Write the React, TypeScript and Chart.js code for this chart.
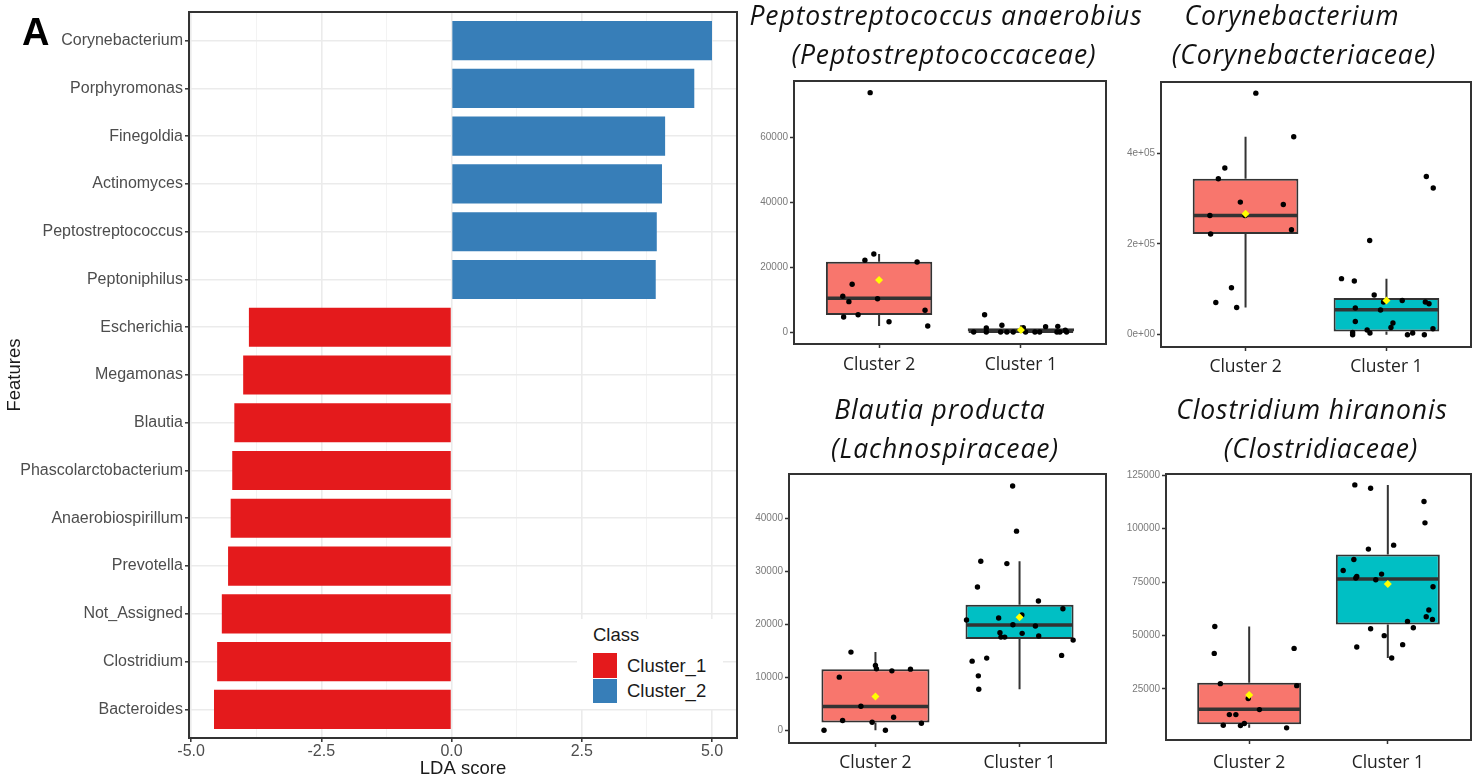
import React, { useEffect, useRef } from 'react';
import { Chart, registerables } from 'chart.js';

Chart.register(...registerables);

// ---------------- Panel A: LDA scores ----------------
const features = [
  'Corynebacterium', 'Porphyromonas', 'Finegoldia', 'Actinomyces', 'Peptostreptococcus',
  'Peptoniphilus', 'Escherichia', 'Megamonas', 'Blautia', 'Phascolarctobacterium',
  'Anaerobiospirillum', 'Prevotella', 'Not_Assigned', 'Clostridium', 'Bacteroides',
];
const ldaScores = [5.0, 4.66, 4.1, 4.04, 3.94, 3.92, -3.89, -4.0, -4.17, -4.21, -4.24, -4.29, -4.41, -4.5, -4.56];
const featureClass = [
  'Cluster_2', 'Cluster_2', 'Cluster_2', 'Cluster_2', 'Cluster_2', 'Cluster_2',
  'Cluster_1', 'Cluster_1', 'Cluster_1', 'Cluster_1', 'Cluster_1', 'Cluster_1', 'Cluster_1', 'Cluster_1', 'Cluster_1',
];
const classNames = ['Cluster_1', 'Cluster_2'];
const classColors = ['#E41A1C', '#377EB8'];
const xMajorTicks = [-5, -2.5, 0, 2.5, 5];
const xMinorTicks = [-3.75, -1.25, 1.25, 3.75];

// ---------------- Box plots ----------------
const groupLabels = ['Cluster 2', 'Cluster 1'];
const boxFills = ['#F8766D', '#00BFC4'];

// Peptostreptococcus anaerobius
const pepC2Values = [73900, 22160, 24110, 21640, 14740, 11030, 9370, 10290, 5350, 4640, 3180, 6710, 1850];
const pepC2Jitter = [-0.063, -0.1, -0.037, 0.268, -0.19, -0.256, -0.213, -0.011, -0.148, -0.25, 0.07, 0.324, 0.343];
const pepC1Values = [5350, 1240, 2070, 0, 0, 0, 0, 0, 1340, 0, 0, 0, 1650, 1750, 0, 0, 570, 0];
const pepC1Jitter = [-0.256, -0.244, -0.134, -0.333, -0.244, -0.143, -0.099, -0.054, 0.017, 0.033, 0.099, 0.132, 0.174, 0.26, 0.254, 0.275, 0.313, 0.322];
const pepQ1 = [5255, 0];
const pepMedian = [10420, 250];
const pepQ3 = [21730, 1150];
const pepWhiskerLow = [1850, 0];
const pepWhiskerHigh = [24110, 2070];
const pepMean = [16070, 620];
const pepYTicks = [0, 20000, 40000, 60000];
const pepYLabels = ['0', '20000', '40000', '60000'];

// Corynebacterium
const coryC2Values = [532000, 435900, 367000, 343400, 292100, 286900, 262700, 262700, 221700, 231100, 103500, 71100, 60100];
const coryC2Jitter = [0.073, 0.342, -0.147, -0.193, -0.037, 0.268, -0.253, -0.004, -0.248, 0.326, -0.1, -0.211, -0.063];
const coryC1Values = [348500, 323000, 207600, 123500, 118200, 87400, 75500, 72000, 72000, 68300, 58800, 54400, 29300, 25800, 16100, 10300, 3700, 5100, 0, 0, 3700, 0, 13200];
const coryC1Jitter = [0.283, 0.332, -0.119, -0.319, -0.228, -0.087, 0.112, -0.021, 0.276, 0.302, -0.221, -0.042, -0.221, 0.046, 0.032, -0.137, -0.117, -0.24, -0.24, 0.149, 0.186, 0.269, 0.33];
const coryQ1 = [221700, 7300];
const coryMedian = [262700, 55000];
const coryQ3 = [343400, 80800];
const coryWhiskerLow = [60100, 0];
const coryWhiskerHigh = [435900, 123500];
const coryMean = [266400, 75500];
const coryYTicks = [0, 200000, 400000];
const coryYLabels = ['0e+00', '2e+05', '4e+05'];

// Blautia producta
const blaC2Values = [14750, 12230, 11590, 10020, 11210, 11530, 4540, 1830, 1510, 2460, 1320, 0, 0];
const blaC2Jitter = [-0.17, 0, 0.007, -0.251, 0.114, 0.243, -0.101, -0.228, -0.023, 0.126, 0.319, -0.357, 0.069];
const blaC1Values = [46070, 37560, 31890, 31440, 27030, 24390, 22930, 20790, 21170, 21740, 19910, 19660, 18400, 17580, 17580, 18280, 17770, 17010, 14120, 13040, 13610, 10270, 7750];
const blaC1Jitter = [-0.048, -0.021, -0.269, -0.088, -0.292, 0.131, 0.301, -0.368, -0.145, 0.016, -0.046, 0.11, -0.136, -0.129, -0.103, 0.018, 0.133, 0.372, 0.292, -0.329, -0.228, -0.286, -0.283];
const blaQ1 = [1450, 17200];
const blaMedian = [4480, 19850];
const blaQ3 = [11530, 23690];
const blaWhiskerLow = [0, 7750];
const blaWhiskerHigh = [14750, 31890];
const blaMean = [6370, 21300];
const blaYTicks = [0, 10000, 20000, 30000, 40000];
const blaYLabels = ['0', '10000', '20000', '30000', '40000'];

// Clostridium hiranonis
const cloC2Values = [54250, 41640, 43970, 27480, 26540, 20470, 15330, 12990, 12990, 8000, 7850, 8790, 6780];
const cloC2Jitter = [-0.248, -0.252, 0.324, -0.208, 0.343, -0.007, 0.074, -0.143, -0.096, -0.187, -0.063, -0.035, 0.27];
const cloC1Values = [120500, 118940, 112700, 102730, 90440, 92310, 85580, 80440, 78760, 77640, 76890, 76100, 72830, 61930, 58800, 57550, 56620, 53670, 53200, 49930, 45720, 44630, 39490];
const cloC1Jitter = [-0.238, -0.124, 0.261, 0.268, -0.14, 0.042, -0.245, -0.322, -0.045, -0.224, -0.231, -0.087, 0.326, 0.296, 0.277, 0.322, 0.142, 0.184, -0.124, -0.026, 0.107, -0.224, 0.028];
const cloQ1 = [8460, 55190];
const cloMedian = [15470, 76450];
const cloQ3 = [27940, 87900];
const cloWhiskerLow = [6780, 39490];
const cloWhiskerHigh = [54250, 120500];
const cloMean = [22200, 74120];
const cloYTicks = [25000, 50000, 75000, 100000, 125000];
const cloYLabels = ['25000', '50000', '75000', '100000', '125000'];

const SANS = '"Liberation Sans", Arial, Helvetica, sans-serif';
const TITLE_FONT = '"Open Sans", "Noto Sans", sans-serif';

Chart.defaults.font.family = SANS;

const framePlugin = {
  id: 'frame',
  afterDatasetsDraw(chart: any) {
    const { ctx, chartArea } = chart;
    ctx.save();
    ctx.strokeStyle = '#333333';
    ctx.lineWidth = 2;
    ctx.strokeRect(chartArea.left, chartArea.top, chartArea.right - chartArea.left, chartArea.bottom - chartArea.top);
    ctx.restore();
  },
};

function ldaConfig(): any {
  const allX = [...xMajorTicks, ...xMinorTicks].sort((a, b) => a - b);
  return {
    type: 'bar',
    data: {
      datasets: [
        {
          data: features.map((_, i) => ({ x: ldaScores[i], y: i })),
          backgroundColor: featureClass.map((c) => classColors[classNames.indexOf(c)]),
          borderWidth: 0,
          barPercentage: 0.82,
          categoryPercentage: 1,
        },
      ],
    },
    options: {
      indexAxis: 'y',
      animation: false,
      responsive: false,
      maintainAspectRatio: false,
      events: [],
      layout: { padding: { top: 12, right: 8, left: 0, bottom: 0 } },
      plugins: { legend: { display: false }, tooltip: { enabled: false } },
      scales: {
        x: {
          type: 'linear',
          min: -5.04,
          max: 5.48,
          offset: false,
          afterBuildTicks: (axis: any) => {
            axis.ticks = allX.map((v) => ({ value: v }));
          },
          afterFit: (axis: any) => {
            axis.height = 42;
          },
          ticks: {
            autoSkip: false,
            maxRotation: 0,
            padding: 0,
            color: '#4D4D4D',
            font: { size: 16, family: SANS },
            callback: (v: number) => (xMajorTicks.includes(v) ? v.toFixed(1) : ''),
          },
          grid: {
            offset: false,
            color: (ctx: any) => (ctx.tick && xMajorTicks.includes(ctx.tick.value) ? '#EBEBEB' : '#F3F3F3'),
            lineWidth: (ctx: any) => (ctx.tick && xMajorTicks.includes(ctx.tick.value) ? 1.6 : 1),
            tickColor: (ctx: any) => (ctx.tick && xMajorTicks.includes(ctx.tick.value) ? '#333333' : 'rgba(0,0,0,0)'),
            tickLength: 4,
            tickWidth: 1.5,
          },
          border: { display: false },
          title: {
            display: true,
            text: 'LDA score',
            color: '#1a1a1a',
            font: { size: 18.5, family: SANS },
            padding: { top: 0, bottom: 0 },
          },
        },
        y: {
          type: 'linear',
          reverse: true,
          min: -0.6,
          max: 14.6,
          offset: false,
          afterBuildTicks: (axis: any) => {
            axis.ticks = features.map((_, i) => ({ value: i }));
          },
          afterFit: (axis: any) => {
            axis.width = 189;
          },
          ticks: {
            autoSkip: false,
            padding: 2,
            color: '#4D4D4D',
            font: { size: 16, family: SANS },
            callback: (_v: number, idx: number) => features[idx],
          },
          grid: {
            offset: false,
            color: '#EBEBEB',
            lineWidth: 1.6,
            tickColor: '#333333',
            tickLength: 4,
            tickWidth: 1.5,
          },
          border: { display: false },
          title: {
            display: true,
            text: 'Features',
            color: '#1a1a1a',
            font: { size: 18.5, family: SANS },
            padding: { top: 4, bottom: 0 },
          },
        },
      },
    },
    plugins: [framePlugin],
  };
}

type BoxPanel = {
  c2Values: number[]; c2Jitter: number[]; c1Values: number[]; c1Jitter: number[];
  q1: number[]; median: number[]; q3: number[]; whiskerLow: number[]; whiskerHigh: number[]; mean: number[];
  yMin: number; yMax: number; yTicks: number[]; yLabels: string[];
  padTop: number; padRight: number; yAxisWidth: number; xAxisHeight: number; labelPad: number;
};

function boxConfig(p: BoxPanel): any {
  const groups = [
    { values: p.c2Values, jitter: p.c2Jitter },
    { values: p.c1Values, jitter: p.c1Jitter },
  ];
  const extras = {
    id: 'boxExtras',
    afterDatasetDraw(chart: any, args: any) {
      if (args.meta.type !== 'bar') return;
      const { ctx } = chart;
      const y = chart.scales.y;
      ctx.save();
      ctx.strokeStyle = '#333333';
      args.meta.data.forEach((bar: any, i: number) => {
        const { x: cx, width } = bar.getProps(['x', 'width'], true);
        ctx.lineWidth = 2;
        ctx.beginPath();
        ctx.moveTo(cx, y.getPixelForValue(p.q3[i]));
        ctx.lineTo(cx, y.getPixelForValue(p.whiskerHigh[i]));
        ctx.moveTo(cx, y.getPixelForValue(p.q1[i]));
        ctx.lineTo(cx, y.getPixelForValue(p.whiskerLow[i]));
        ctx.stroke();
        const ym = y.getPixelForValue(p.median[i]);
        ctx.lineWidth = 3.5;
        ctx.beginPath();
        ctx.moveTo(cx - width / 2 + 1, ym);
        ctx.lineTo(cx + width / 2 - 1, ym);
        ctx.stroke();
      });
      ctx.restore();
    },
  };
  return {
    type: 'scatter',
    data: {
      datasets: [
        {
          type: 'scatter',
          data: p.mean.map((m, i) => ({ x: i, y: m })),
          pointStyle: 'rectRot',
          pointRadius: 4,
          backgroundColor: '#FFFF00',
          borderColor: '#FFFF00',
          borderWidth: 0,
          order: 0,
        },
        ...groups.map((g, gi) => ({
          type: 'scatter',
          data: g.values.map((v, k) => ({ x: gi + g.jitter[k], y: v })),
          pointRadius: 2.7,
          backgroundColor: '#000000',
          borderWidth: 0,
          order: 1,
        })),
        {
          type: 'bar',
          data: p.q1.map((q, i) => ({ x: i, y: [q, p.q3[i]] })),
          backgroundColor: boxFills,
          borderColor: '#333333',
          borderWidth: 2,
          borderSkipped: false,
          barPercentage: 0.75,
          categoryPercentage: 1,
          order: 2,
        },
      ],
    },
    options: {
      animation: false,
      responsive: false,
      maintainAspectRatio: false,
      events: [],
      layout: { padding: { top: p.padTop, right: p.padRight, left: 0, bottom: 0 } },
      plugins: { legend: { display: false }, tooltip: { enabled: false } },
      scales: {
        x: {
          type: 'linear',
          min: -0.6,
          max: 1.6,
          offset: false,
          afterBuildTicks: (axis: any) => {
            axis.ticks = groupLabels.map((_, i) => ({ value: i }));
          },
          afterFit: (axis: any) => {
            axis.height = p.xAxisHeight;
          },
          ticks: {
            autoSkip: false,
            maxRotation: 0,
            padding: p.labelPad,
            color: '#222222',
            font: { size: 17.5, family: TITLE_FONT },
            callback: (_v: number, idx: number) => groupLabels[idx],
          },
          grid: { offset: false, drawOnChartArea: false, tickLength: 4, tickColor: '#333333', tickWidth: 1.5 },
          border: { display: false },
        },
        y: {
          type: 'linear',
          min: p.yMin,
          max: p.yMax,
          afterBuildTicks: (axis: any) => {
            axis.ticks = p.yTicks.map((v) => ({ value: v }));
          },
          afterFit: (axis: any) => {
            axis.width = p.yAxisWidth;
          },
          ticks: {
            autoSkip: false,
            padding: 2,
            color: '#7A7A7A',
            font: { size: 10, family: SANS },
            callback: (_v: number, idx: number) => p.yLabels[idx],
          },
          grid: { drawOnChartArea: false, tickLength: 4, tickColor: '#333333', tickWidth: 1.5 },
          border: { display: false },
        },
      },
    },
    plugins: [extras, framePlugin],
  };
}

const pepPanel: BoxPanel = {
  c2Values: pepC2Values, c2Jitter: pepC2Jitter, c1Values: pepC1Values, c1Jitter: pepC1Jitter,
  q1: pepQ1, median: pepMedian, q3: pepQ3, whiskerLow: pepWhiskerLow, whiskerHigh: pepWhiskerHigh, mean: pepMean,
  yMin: -3700, yMax: 77500, yTicks: pepYTicks, yLabels: pepYLabels,
  padTop: 81, padRight: 3, yAxisWidth: 46, xAxisHeight: 36, labelPad: 6.5,
};
const coryPanel: BoxPanel = {
  c2Values: coryC2Values, c2Jitter: coryC2Jitter, c1Values: coryC1Values, c1Jitter: coryC1Jitter,
  q1: coryQ1, median: coryMedian, q3: coryQ3, whiskerLow: coryWhiskerLow, whiskerHigh: coryWhiskerHigh, mean: coryMean,
  yMin: -27000, yMax: 556500, yTicks: coryYTicks, yLabels: coryYLabels,
  padTop: 82, padRight: 1, yAxisWidth: 48, xAxisHeight: 33, labelPad: 6,
};
const blaPanel: BoxPanel = {
  c2Values: blaC2Values, c2Jitter: blaC2Jitter, c1Values: blaC1Values, c1Jitter: blaC1Jitter,
  q1: blaQ1, median: blaMedian, q3: blaQ3, whiskerLow: blaWhiskerLow, whiskerHigh: blaWhiskerHigh, mean: blaMean,
  yMin: -2400, yMax: 48340, yTicks: blaYTicks, yLabels: blaYLabels,
  padTop: 84, padRight: 2, yAxisWidth: 44, xAxisHeight: 37, labelPad: 6,
};
const cloPanel: BoxPanel = {
  c2Values: cloC2Values, c2Jitter: cloC2Jitter, c1Values: cloC1Values, c1Jitter: cloC1Jitter,
  q1: cloQ1, median: cloMedian, q3: cloQ3, whiskerLow: cloWhiskerLow, whiskerHigh: cloWhiskerHigh, mean: cloMean,
  yMin: 1100, yMax: 125600, yTicks: cloYTicks, yLabels: cloYLabels,
  padTop: 84, padRight: 1, yAxisWidth: 53, xAxisHeight: 40, labelPad: 8.5,
};

function ChartCanvas({ left, top, width, height, make }: any) {
  const ref = useRef<HTMLCanvasElement>(null);
  useEffect(() => {
    const chart = new Chart(ref.current as HTMLCanvasElement, make());
    return () => chart.destroy();
  }, []);
  return (
    <canvas
      ref={ref}
      width={width}
      height={height}
      style={{ position: 'absolute', left, top, width, height }}
    />
  );
}

function TitleLine({ text, cx, top }: any) {
  return (
    <div
      style={{
        position: 'absolute',
        left: cx - 260,
        width: 520,
        top,
        textAlign: 'center',
        fontFamily: TITLE_FONT,
        fontStyle: 'italic',
        fontSize: 26.5,
        letterSpacing: '0.9px',
        lineHeight: '39px',
        color: '#111111',
        whiteSpace: 'nowrap',
      }}
    >
      {text}
    </div>
  );
}

export default function App() {
  return (
    <div
      style={{
        position: 'absolute',
        left: 0,
        top: 0,
        width: 1475,
        height: 780,
        background: '#ffffff',
        overflow: 'hidden',
      }}
    >
      <ChartCanvas left={0} top={0} width={745} height={780} make={ldaConfig} />
      <div
        style={{
          position: 'absolute', left: 22, top: 13, fontFamily: SANS, fontWeight: 'bold',
          fontSize: 38, lineHeight: '38px', color: '#000',
        }}
      >
        A
      </div>
      {/* legend */}
      <div style={{ position: 'absolute', left: 577, top: 619, width: 146, height: 90, background: '#ffffff' }}>
        <div style={{ position: 'absolute', left: 16, top: 7, fontFamily: SANS, fontSize: 18.5, lineHeight: '18.5px', color: '#1a1a1a' }}>
          Class
        </div>
        {classNames.map((c, i) => (
          <React.Fragment key={c}>
            <div
              style={{
                position: 'absolute', left: 16, top: 34 + i * 25.5, width: 24, height: 24.5,
                background: classColors[i],
              }}
            />
            <div
              style={{
                position: 'absolute', left: 50, top: 38 + i * 25, fontFamily: SANS, fontSize: 18.5,
                lineHeight: '18.5px', color: '#1a1a1a',
              }}
            >
              {c}
            </div>
          </React.Fragment>
        ))}
      </div>

      <TitleLine text="Peptostreptococcus anaerobius" cx={946} top={-4} />
      <TitleLine text="(Peptostreptococcaceae)" cx={944} top={35} />
      <ChartCanvas left={748} top={0} width={362} height={380} make={() => boxConfig(pepPanel)} />

      <TitleLine text="Corynebacterium" cx={1292} top={-4} />
      <TitleLine text="(Corynebacteriaceae)" cx={1304} top={35} />
      <ChartCanvas left={1113} top={0} width={362} height={380} make={() => boxConfig(coryPanel)} />

      <TitleLine text="Blautia producta" cx={940} top={390} />
      <TitleLine text="(Lachnospiraceae)" cx={945} top={429} />
      <ChartCanvas left={745} top={390} width={365} height={390} make={() => boxConfig(blaPanel)} />

      <TitleLine text="Clostridium hiranonis" cx={1312} top={390} />
      <TitleLine text="(Clostridiaceae)" cx={1321} top={429} />
      <ChartCanvas left={1113} top={390} width={362} height={390} make={() => boxConfig(cloPanel)} />
    </div>
  );
}
